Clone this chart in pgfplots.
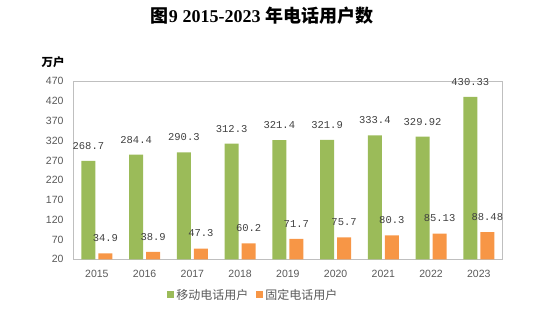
\documentclass[border=0pt]{standalone}
\usepackage{pgfplots}
\pgfplotsset{compat=1.18}
\usepackage{pgfplotstable}
\usepackage{fontspec}
\setmainfont{Liberation Sans}
\newfontfamily\cjk{Noto Sans CJK SC}
\newfontfamily\monof{Liberation Mono}
\newfontfamily\serif{Liberation Serif}
\definecolor{cgreen}{HTML}{9BBB59}
\definecolor{corange}{HTML}{F79646}
\definecolor{cgray}{HTML}{BFBFBF}
\definecolor{ctext}{HTML}{595959}
\definecolor{clab}{HTML}{404040}

\pgfplotstableread{
x y lab
0 268.7 268.7
1 284.4 284.4
2 290.3 290.3
3 312.3 312.3
4 321.4 321.4
5 321.9 321.9
6 333.4 333.4
7 329.92 329.92
8 430.33 430.33
}\mobile
\pgfplotstableread{
x y lab
0 34.9 34.9
1 38.9 38.9
2 47.3 47.3
3 60.2 60.2
4 71.7 71.7
5 75.7 75.7
6 80.3 80.3
7 85.13 85.13
8 88.48 88.48
}\fixed

\begin{document}
\begin{tikzpicture}
\useasboundingbox (0,0) rectangle (553bp,326bp);
\node[font=\bfseries\fontsize{18bp}{20bp}\selectfont] at (262bp,310bp) {{\cjk 图}{\serif 9\hspace{5bp}2015-2023 }{\cjk 年电话用户数}};
\node[font=\cjk\bfseries\fontsize{11.5bp}{13bp}\selectfont] at (53bp,264bp) {万户};
\begin{axis}[
  at={(73bp,66.7bp)}, anchor=south west,
  scale only axis, width=429.7bp, height=178bp,
  clip=false,
  y coord trafo/.code={\pgfmathparse{#1-20}},
  y coord inv trafo/.code={\pgfmathparse{#1+20}},
  xmin=-0.5, xmax=8.5, ymin=20, ymax=470,
  ytick={20,70,120,170,220,270,320,370,420,470},
  yticklabels={20,70,120,170,220,270,320,370,420,470},
  xtick={0,...,8},
  xticklabels={2015,2016,2017,2018,2019,2020,2021,2022,2023},
  major tick length=0pt,
  axis line style={cgray, line width=0.8pt},
  tick label style={font=\fontsize{10.5bp}{12bp}\selectfont, text=ctext},
  /pgf/number format/assume math mode=true,
  yticklabel style={xshift=-6bp},
  xticklabel style={yshift=-7bp},
  ybar=3bp, bar width=14bp,
  point meta=explicit symbolic,
  nodes near coords,
  every node near coord/.append style={anchor=center, yshift=15bp, inner sep=0pt, font=\monof\fontsize{10.5bp}{12bp}\selectfont, text=clab},
  legend style={at={(0.42,-0.2)}, anchor=center, draw=none, fill=none, legend columns=2,
     font=\cjk\fontsize{12bp}{14bp}\selectfont, text=ctext,
     /tikz/every even column/.append style={column sep=6bp}},
  legend image code/.code={\fill[#1] (0bp,-3.5bp) rectangle (7bp,3.5bp);},
]
\addplot[fill=cgreen, draw=none] table[x=x, y=y, meta=lab] {\mobile};
\addplot[fill=corange, draw=none] table[x=x, y=y, meta=lab] {\fixed};
\legend{移动电话用户,固定电话用户}
\end{axis}
\end{tikzpicture}
\end{document}
